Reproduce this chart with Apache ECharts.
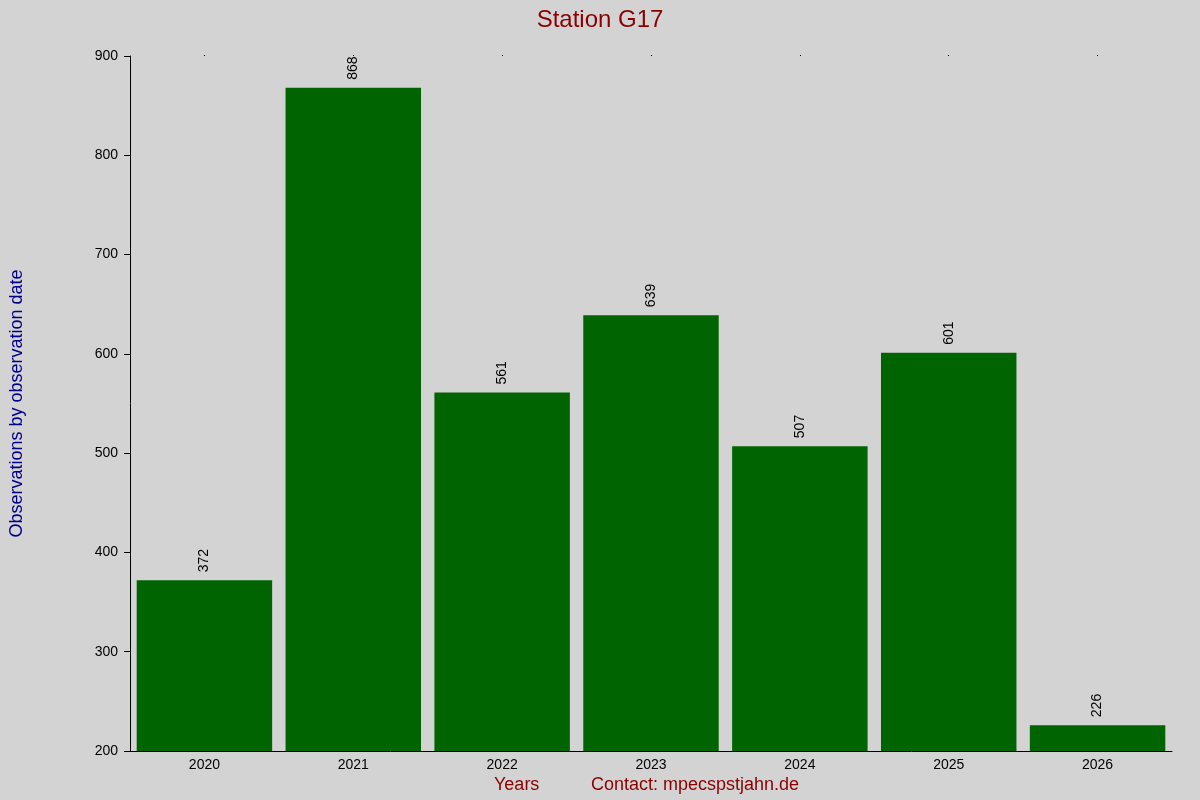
<!DOCTYPE html>
<html><head><meta charset="utf-8">
<script src="https://cdn.jsdelivr.net/npm/echarts@6/dist/echarts.min.js"></script>
<style>html,body{margin:0;background:#d3d3d3}#c{width:1200px;height:800px}</style>
</head><body><div id="c"></div>
<script>
const years = ['2020','2021','2022','2023','2024','2025','2026'];
const observations = [372, 868, 561, 639, 507, 601, 226];
const yTicks = {min: 200, max: 900, interval: 100};
const F = 'Liberation Sans, Arial, sans-serif';
const chart = echarts.init(document.getElementById('c'));
chart.setOption({
  backgroundColor: '#d3d3d3',
  animation: false,
  title: {text: 'Station G17', left: 'center', top: 3,
    textStyle: {color: '#8b0000', fontSize: 24, fontWeight: 'normal', fontFamily: F}},
  grid: {left: 126, right: 28, top: 56, bottom: 49},
  xAxis: [{
    type: 'category', data: years, position: 'bottom',
    axisLine: {show: true, lineStyle: {color: '#000'}},
    axisTick: {show: false},
    axisLabel: {color: '#000', fontSize: 14, fontFamily: F, margin: 7}
  },{
    type: 'category', data: years, position: 'top',
    axisLine: {show: false},
    axisTick: {show: true, alignWithLabel: true, length: 1, lineStyle: {color: '#000'}},
    axisLabel: {show: false}
  }],
  yAxis: {
    type: 'value', min: yTicks.min, max: yTicks.max, interval: yTicks.interval,
    name: 'Observations by observation date', nameLocation: 'middle', nameGap: 104,
    nameTextStyle: {color: '#00008b', fontSize: 18, fontFamily: F},
    axisLine: {show: true, lineStyle: {color: '#000'}},
    axisTick: {show: true, length: 6, lineStyle: {color: '#000'}},
    axisLabel: {color: '#000', fontSize: 14, fontFamily: F, margin: 12},
    splitLine: {show: false}
  },
  series: [{
    type: 'bar', data: observations, barCategoryGap: '9%',
    itemStyle: {color: '#006400'},
    label: {show: true, position: 'top', rotate: 90, align: 'left', verticalAlign: 'middle',
      distance: 8, color: '#000', fontSize: 14, fontFamily: F}
  }],
  graphic: [
    {type: 'text', left: 494, top: 776, style: {text: 'Years', fill: '#8b0000', fontSize: 18, fontFamily: F}},
    {type: 'text', left: 591, top: 776, style: {text: 'Contact: mpecspstjahn.de', fill: '#8b0000', fontSize: 18, fontFamily: F}}
  ]
});
</script></body></html>
